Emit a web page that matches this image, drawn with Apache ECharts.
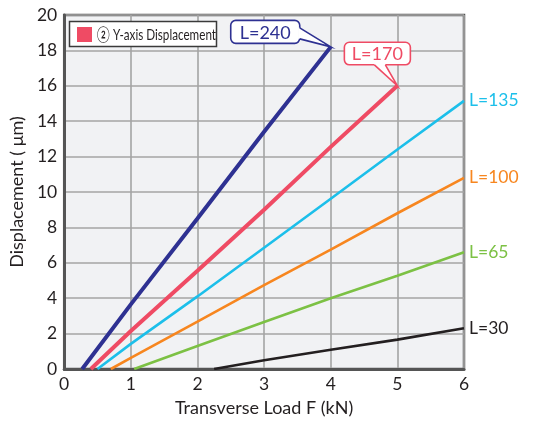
<!DOCTYPE html>
<html>
<head>
<meta charset="utf-8">
<script src="https://cdn.jsdelivr.net/npm/echarts@6/dist/echarts.min.js"></script>
<style>
  html, body { margin: 0; padding: 0; background: #fff; }
  #chart { width: 539px; height: 424px; }
</style>
</head>
<body>
<div id="chart"></div>
<script>
// Axis ticks
const xTicks = [0, 1, 2, 3, 4, 5, 6];
const yTicks = [0, 2, 4, 6, 8, 10, 12, 14, 16, 18, 20];

// Displacement curves per span length L: load F (kN) and displacement (µm)
const l240Load = [0.27, 1, 2, 3, 4];
const l240Disp = [0, 3.65, 8.5, 13.4, 18.2];

const l170Load = [0.40, 1, 2, 3, 4, 5];
const l170Disp = [0, 2.15, 5.55, 9.0, 12.55, 16.0];

const l135Load = [0.50, 1, 2, 3, 4, 5, 6];
const l135Disp = [0, 1.42, 4.1, 6.85, 9.62, 12.4, 15.15];

const l100Load = [0.70, 1, 2, 3, 4, 5, 6];
const l100Disp = [0, 0.63, 2.68, 4.74, 6.75, 8.8, 10.8];

const l65Load = [1.05, 2, 3, 4, 5, 6];
const l65Disp = [0, 1.3, 2.66, 4.0, 5.27, 6.6];

const l30Load = [2.25, 3, 4, 5, 6];
const l30Disp = [0, 0.49, 1.09, 1.66, 2.3];

const seriesNames = ['L=240', 'L=170', 'L=135', 'L=100', 'L=65', 'L=30'];
const seriesColors = ['#2e3192', '#ef4b64', '#1cbfea', '#f7861f', '#7cc144', '#231f20'];
const seriesWidths = [4, 4, 2.6, 2.6, 2.6, 2.6];
const legendLabel = '② Y-axis Displacement';

const loads = [l240Load, l170Load, l135Load, l100Load, l65Load, l30Load];
const disps = [l240Disp, l170Disp, l135Disp, l100Disp, l65Disp, l30Disp];

const FONT = 'Lato, "Noto Sans", sans-serif';

const chart = echarts.init(document.getElementById('chart'), null, { renderer: 'canvas' });

const lineSeries = seriesNames.map((name, k) => ({
  name: name,
  type: 'line',
  data: loads[k].map((x, i) => [x, disps[k][i]]),
  showSymbol: false,
  smooth: false,
  z: 10 - k,
  lineStyle: { color: seriesColors[k], width: seriesWidths[k], cap: 'butt' },
  itemStyle: { color: seriesColors[k] },
  endLabel: {
    // the two longest spans get boxed callouts instead
    show: k >= 2,
    formatter: name,
    color: seriesColors[k],
    fontFamily: FONT,
    fontSize: 17.5,
    distance: 5
  }
}));

chart.setOption({
  animation: false,
  grid: {
    left: 62, right: 75, top: 15, bottom: 55,
    show: true,
    backgroundColor: '#f1f2f4',
    borderColor: '#555555',
    borderWidth: 2.5
  },
  xAxis: {
    type: 'value',
    min: xTicks[0], max: xTicks[xTicks.length - 1], interval: 1,
    name: 'Transverse Load F (kN)',
    nameLocation: 'middle',
    nameGap: 30,
    nameTextStyle: { fontFamily: FONT, fontSize: 18, color: '#231f20' },
    axisLine: { show: true, lineStyle: { color: '#555555', width: 3 } },
    axisTick: { show: false },
    axisLabel: { fontFamily: FONT, fontSize: 17.5, color: '#231f20', margin: 6 },
    splitLine: { show: true, lineStyle: { color: '#a4a4a4', width: 1.6 } }
  },
  yAxis: {
    type: 'value',
    min: yTicks[0], max: yTicks[yTicks.length - 1], interval: 2,
    name: 'Displacement ( μm)',
    nameLocation: 'middle',
    nameGap: 27,
    nameTextStyle: { fontFamily: FONT, fontSize: 18, color: '#231f20' },
    axisLine: { show: true, lineStyle: { color: '#555555', width: 3 } },
    axisTick: { show: false },
    axisLabel: { fontFamily: FONT, fontSize: 17.5, color: '#231f20', margin: 7 },
    splitLine: { show: true, lineStyle: { color: '#a4a4a4', width: 1.6 } }
  },
  series: lineSeries
});

// Rounded callout box with a pointer wedge toward the curve's end point
function callout(idx, box, wedgeSide, wa, wb) {
  const n = loads[idx].length;
  const tip = chart.convertToPixel({ gridIndex: 0 }, [loads[idx][n - 1], disps[idx][n - 1]]);
  const tx = tip[0], ty = tip[1];
  const x1 = tx + box[0], y1 = ty + box[1], x2 = tx + box[2], y2 = ty + box[3];
  const color = seriesColors[idx];
  let a, b, ai, bi;
  if (wedgeSide === 'right') {
    a = [x2, ty + wa]; b = [x2, ty + wb];
    ai = [x2 - 1.5, ty + wa]; bi = [x2 - 1.5, ty + wb];
  } else {
    a = [tx + wa, y2]; b = [tx + wb, y2];
    ai = [tx + wa, y2 - 1.5]; bi = [tx + wb, y2 - 1.5];
  }
  return [
    {
      type: 'rect',
      shape: { x: x1, y: y1, width: x2 - x1, height: y2 - y1, r: 5 },
      style: { fill: '#fff', stroke: color, lineWidth: 1.6 },
      z: 100
    },
    {
      type: 'polygon',
      shape: { points: [ai, a, [tx, ty], b, bi] },
      style: { fill: '#fff', stroke: null },
      z: 101
    },
    {
      type: 'polyline',
      shape: { points: [a, [tx, ty], b] },
      style: { fill: null, stroke: color, lineWidth: 1.6, lineJoin: 'miter' },
      z: 102
    },
    {
      type: 'text',
      x: (x1 + x2) / 2, y: (y1 + y2) / 2 + 1,
      style: {
        text: seriesNames[idx],
        fill: color,
        fontFamily: FONT, fontSize: 18,
        align: 'center', verticalAlign: 'middle'
      },
      z: 103
    }
  ];
}

// Legend box in the upper-left corner of the plot
const legendBox = [
  {
    type: 'rect',
    shape: { x: 69.5, y: 21.5, width: 147, height: 25 },
    style: { fill: '#fff', stroke: '#3a3a3a', lineWidth: 1.5 },
    z: 100
  },
  {
    type: 'rect',
    shape: { x: 77, y: 27, width: 15, height: 15 },
    style: { fill: seriesColors[1] },
    z: 101
  },
  {
    type: 'text',
    x: 97, y: 35, scaleX: 0.73,
    style: {
      text: legendLabel, fill: '#231f20',
      fontFamily: FONT, fontSize: 16,
      align: 'left', verticalAlign: 'middle'
    },
    z: 101
  }
];

chart.setOption({
  graphic: [].concat(
    legendBox,
    callout(0, [-100, -26.5, -31, -3.5], 'right', -19, -8),
    callout(1, [-53, -43.5, 13, -21], 'bottom', -23, -12)
  )
});
</script>
</body>
</html>
